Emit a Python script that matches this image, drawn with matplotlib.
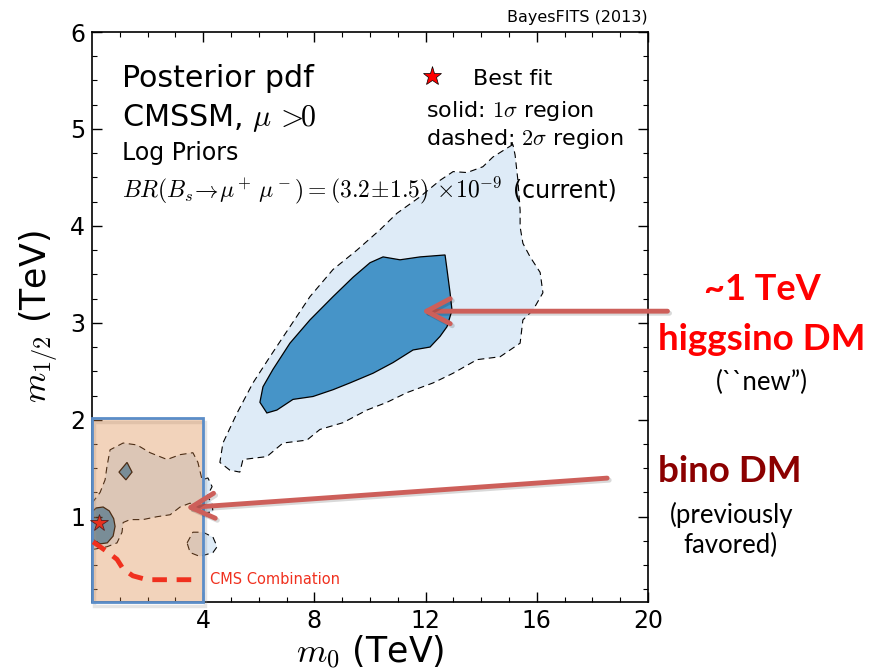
import numpy as np
import matplotlib
matplotlib.use("Agg")
from matplotlib import pyplot as plt
from matplotlib.patches import Rectangle
import matplotlib.patheffects as pe

plt.rcParams['mathtext.fontset'] = 'cm'
plt.rcParams['font.family'] = ['DejaVu Sans']

# 2 sigma region (main, higgsino branch)
outer_m0 = [15.14, 14.42, 14.06, 13.49, 12.99, 12.52, 11.80, 10.97, 10.36, 9.53, 8.67, 7.84, 7.12,
            6.40, 5.79, 5.22, 4.71, 4.60, 4.96, 5.32, 5.43, 6.29, 6.87, 7.73, 8.20, 9.03, 9.89,
            10.61, 11.33, 12.27, 12.99, 13.85, 14.68, 15.40, 15.50, 15.86, 16.22, 16.12, 15.76,
            15.50, 15.40, 15.40, 15.32, 15.22]
outer_m12 = [4.84, 4.71, 4.61, 4.55, 4.56, 4.47, 4.30, 4.13, 3.96, 3.75, 3.55, 3.27, 2.96,
             2.65, 2.38, 2.07, 1.76, 1.56, 1.48, 1.46, 1.59, 1.62, 1.76, 1.79, 1.90, 1.97, 2.10,
             2.18, 2.28, 2.38, 2.48, 2.62, 2.65, 2.79, 3.03, 3.13, 3.31, 3.52, 3.68,
             3.82, 3.99, 4.16, 4.47, 4.73]

# 1 sigma region (main)
inner_m0 = [12.70, 12.77, 12.88, 12.95, 12.77, 12.52, 12.16, 11.55, 10.83, 10.11, 9.28, 8.67,
            7.95, 7.23, 6.65, 6.29, 6.04, 6.15, 6.51, 7.12, 7.84, 8.67, 9.39, 10.00, 10.47,
            11.08, 11.80]
inner_m12 = [3.70, 3.55, 3.31, 3.13, 2.96, 2.86, 2.75, 2.72, 2.59, 2.48, 2.38, 2.31,
             2.24, 2.21, 2.10, 2.07, 2.18, 2.34, 2.52, 2.79, 3.03, 3.27, 3.47, 3.62, 3.68,
             3.65, 3.68]

# 2 sigma region (bino branch, low m0)
low2_m0 = [0.0, 0.29, 0.47, 0.54, 0.65, 1.12, 1.62, 2.09, 2.70, 3.17, 3.63, 3.81, 3.96, 4.17,
           4.32, 4.14, 4.32, 4.35, 3.99, 3.53, 3.17, 2.81, 2.34, 1.83, 1.37, 1.12, 1.08, 0.90,
           0.54, 0.0]
low2_m12 = [1.14, 1.25, 1.38, 1.52, 1.69, 1.76, 1.74, 1.66, 1.59, 1.64, 1.66, 1.56, 1.38, 1.40,
            1.31, 1.21, 1.14, 1.05, 1.04, 1.14, 1.10, 1.02, 1.00, 0.97, 0.97, 0.94, 0.84, 0.73,
            0.69, 0.66]
blob2_m0 = [3.42, 3.63, 3.99, 4.35, 4.50, 4.35, 3.88, 3.53]
blob2_m12 = [0.73, 0.84, 0.84, 0.79, 0.69, 0.63, 0.59, 0.63]

# 1 sigma islands (bino branch)
low1_m0 = [0.0, 0.15, 0.40, 0.62, 0.78, 0.83, 0.76, 0.55, 0.30, 0.10, 0.0]
low1_m12 = [1.05, 1.09, 1.10, 1.06, 0.98, 0.90, 0.80, 0.73, 0.72, 0.75, 0.78]
diam_m0 = [0.97, 1.26, 1.44, 1.22]
diam_m12 = [1.46, 1.56, 1.46, 1.38]

best_m0, best_m12 = 0.25, 0.94

# CMS combination limit
cms_m0 = [0.04, 0.54, 0.90, 1.12, 1.47, 1.98, 3.63]
cms_m12 = [0.74, 0.64, 0.56, 0.46, 0.39, 0.35, 0.35]

light_blue = '#deebf7'
dark_blue = '#4694c8'
arrow_col = '#cd5f5a'

fig = plt.figure(figsize=(8.92, 6.72), dpi=100)
ax = fig.add_axes([92/892, 70/672, 556/892, 570/672])

dash = (0, (6, 4))
ax.fill(outer_m0, outer_m12, facecolor=light_blue, edgecolor='k', ls=dash, lw=0.8)
ax.fill(inner_m0, inner_m12, facecolor=dark_blue, edgecolor='k', ls='-', lw=0.9)
ax.fill(low2_m0, low2_m12, facecolor=light_blue, edgecolor='k', ls=dash, lw=0.8)
ax.fill(blob2_m0, blob2_m12, facecolor=light_blue, edgecolor='k', ls=dash, lw=0.8)
ax.fill(low1_m0, low1_m12, facecolor=dark_blue, edgecolor='k', ls='-', lw=0.9)
ax.fill(diam_m0, diam_m12, facecolor=dark_blue, edgecolor='k', ls='-', lw=0.9)

ax.set_xlim(0, 20)
ax.set_ylim(0.12, 6)
ax.set_xticks([4, 8, 12, 16, 20])
ax.set_yticks([1, 2, 3, 4, 5, 6])
ax.set_xticks(np.arange(1, 20, 1), minor=True)
ax.set_yticks(np.arange(0.25, 6, 0.25), minor=True)
ax.tick_params(which='both', direction='in', top=True, right=True, labelsize=17, pad=5)
ax.tick_params(which='major', length=7, width=1)
ax.tick_params(which='minor', length=3.5, width=0.8)
for s in ax.spines.values():
    s.set_linewidth(1.2)

ax.set_xlabel('$m_0$ (TeV)', fontsize=25, labelpad=0)
ax.set_ylabel('$m_{1/2}$ (TeV)', fontsize=25, labelpad=6)

# text block
ax.text(0.054, 0.9035, 'Posterior pdf', transform=ax.transAxes, fontsize=21.7, va='baseline')
ax.text(0.054, 0.835, r'CMSSM, $\mu\,>\!\!0$', transform=ax.transAxes, fontsize=21.7, va='baseline')
ax.text(0.054, 0.775, 'Log Priors', transform=ax.transAxes, fontsize=17, va='baseline')
ax.text(0.054, 0.7105,
        r'$BR(B_s\!\rightarrow\!\mu^+\,\mu^-)=(3.2\!\pm\!1.5)\,\times\!10^{-9}$',
        transform=ax.transAxes, fontsize=17, va='baseline')
ax.text(0.757, 0.7105, '(current)', transform=ax.transAxes, fontsize=17, va='baseline')
ax.plot([0.6115], [0.923], marker='*', color='red', mec='k', mew=0.5, ms=14,
        transform=ax.transAxes, clip_on=False)
ax.text(0.685, 0.907, 'Best fit', transform=ax.transAxes, fontsize=16, va='baseline')
ax.text(0.60, 0.851, r'solid: $1\sigma$ region', transform=ax.transAxes, fontsize=16, va='baseline')
ax.text(0.60, 0.802, r'dashed: $2\sigma$ region', transform=ax.transAxes, fontsize=16, va='baseline')
ax.text(1.0, 1.018, 'BayesFITS (2013)', transform=ax.transAxes, fontsize=11.5, ha='right', va='baseline')

# highlighted bino box
shadow = Rectangle((0.07, 0.08), 4.0, 1.9, facecolor='none',
                   edgecolor='#999999', lw=2.5, alpha=0.25, clip_on=False, zorder=4)
ax.add_patch(shadow)
box = Rectangle((0, 0.12), 4.0, 1.9, facecolor=(0.86, 0.51, 0.24, 0.35),
                edgecolor='#5b8dc8', lw=2, clip_on=False, zorder=5)
ax.add_patch(box)

ax.plot(cms_m0, cms_m12, color='#f0301e', ls=(0, (3, 2)), lw=3.5, zorder=6)
ax.text(4.25, 0.35, 'CMS Combination', color='#f0301e', fontsize=10.5, va='center', zorder=6)
ax.plot([best_m0], [best_m12], marker='*', color='#e8301e', mec='#552222', mew=0.6, ms=13,
        zorder=7, clip_on=False)

# arrows
shad = [pe.SimpleLineShadow(offset=(1.5, -1.5), alpha=0.15), pe.Normal()]
ax.annotate('', xy=(11.75, 3.12), xytext=(20.8, 3.12), annotation_clip=False, zorder=8,
            arrowprops=dict(arrowstyle='->,head_length=0.85,head_width=0.45', lw=3.5,
                            color=arrow_col, mutation_scale=20, path_effects=shad))
ax.annotate('', xy=(3.27, 1.09), xytext=(18.63, 1.40), annotation_clip=False, zorder=8,
            arrowprops=dict(arrowstyle='->,head_length=0.85,head_width=0.45', lw=3.5,
                            color=arrow_col, mutation_scale=20, path_effects=shad))

# side annotations
side = ['Lato', 'DejaVu Sans']
fig.text(762/892, 1 - 300/672, '~1 TeV', color='#ff0000', fontsize=26, fontweight='bold',
         ha='center', va='baseline', family=side)
fig.text(762/892, 1 - 350/672, 'higgsino DM', color='#ff0000', fontsize=26.5, fontweight='bold',
         ha='center', va='baseline', family=side)
fig.text(762/892, 1 - 390/672, '(``new\u201d)', color='k', fontsize=18.5,
         ha='center', va='baseline', family=side)
fig.text(730/892, 1 - 482/672, 'bino DM', color='#8b0000', fontsize=26.5, fontweight='bold',
         ha='center', va='baseline', family=side)
fig.text(732/892, 1 - 523/672, '(previously', color='k', fontsize=18.5,
         ha='center', va='baseline', family=side)
fig.text(730/892, 1 - 553/672, 'favored)', color='k', fontsize=18.5,
         ha='center', va='baseline', family=side)

fig.savefig('out.png', dpi=100)
